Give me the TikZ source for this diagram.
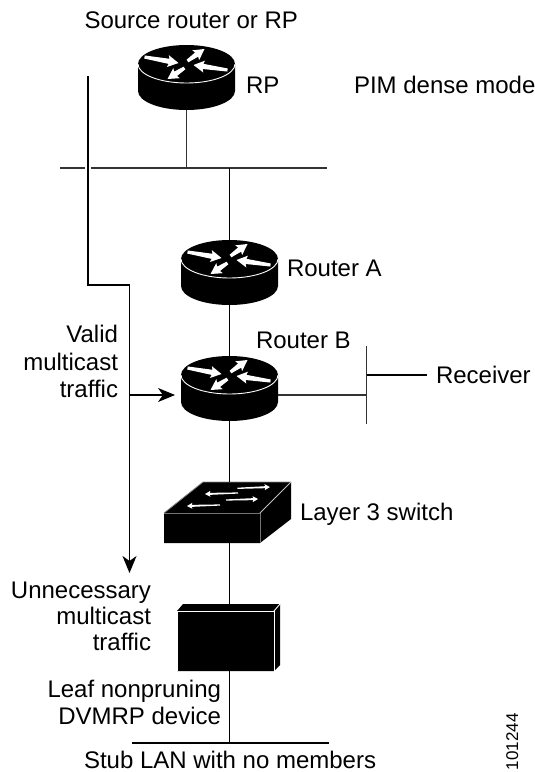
\documentclass[tikz,border=0pt]{standalone}
\usepackage{fontspec}
\setmainfont{Liberation Sans}
\usetikzlibrary{arrows.meta,calc}
\tikzset{
  x=1pt,y=1pt,
  wire/.style={line width=1.1pt,black},
  bar/.style={line width=1.2pt,black!80},
  flow/.style={wire,-{Stealth[length=17pt,width=14pt,inset=5pt]}},
  lbl/.style={inner sep=0pt,outer sep=0pt,font=\fontsize{24}{26.5}\selectfont},
  lblr/.style={lbl,align=right,anchor=base east},
  lbll/.style={lbl,anchor=base west},
  slot/.style={inner sep=0pt,outer sep=0pt,minimum width=#1},
}
% tapered white arrow: x1 y1 x2 y2 (y measured downward) neck head
\newcommand{\whitearrow}[6]{%
  \pgfmathsetmacro{\wang}{atan2(-((#4)-(#2)),(#3)-(#1))}%
  \pgfmathsetmacro{\wlen}{veclen((#3)-(#1),(#4)-(#2))}%
  \pgfmathsetmacro{\wx}{#1}%
  \pgfmathsetmacro{\wy}{-(#2)}%
  \fill[white,shift={(\wx,\wy)},rotate=\wang]
    (0,-#5*0.6) -- (\wlen-#6*0.8,-#5) -- (\wlen-#6*0.9,-#6*0.5) -- (\wlen,0)
    -- (\wlen-#6*0.9,#6*0.5) -- (\wlen-#6*0.8,#5) -- (0,#5*0.6) -- cycle;}
% router: name, centre of the top ellipse (x, y downward)
\newcommand{\routerat}[3]{%
  \node[slot=97pt,minimum height=65pt] (#1) at (#2,-#3-13.5) {};
  \fill[black] (#2-48.5,-#3) -- (#2-48.5,-#3-27) arc[start angle=180,end angle=360,x radius=48.5,y radius=19]
     -- (#2+48.5,-#3) arc[start angle=0,end angle=180,x radius=48.5,y radius=19] -- cycle;
  \draw[white,line width=0.9pt] (#2-48.5,-#3) arc[start angle=180,end angle=360,x radius=48.5,y radius=19];
  \whitearrow{#2-42}{#3-7}{#2-8}{#3-1}{2.6}{12}
  \whitearrow{#2+1}{#3-3}{#2+18}{#3-15}{2.6}{12}
  \whitearrow{#2+41}{#3+6}{#2+7}{#3+1}{2.6}{12}
  \whitearrow{#2-2}{#3+4}{#2-19}{#3+15}{2.6}{12}
}
\begin{document}
\begin{tikzpicture}
\useasboundingbox (0,-772) rectangle (535,0);
% devices
\routerat{rp}{186.5}{64}
\routerat{ra}{229.5}{259}
\routerat{rb}{229.5}{375}
% layer 3 switch
\node[slot=127pt,minimum height=61pt] (sw) at (227.5,-512.5) {};
\fill[black] (164,-513) -- (203,-482) -- (291,-482) -- (291,-519) -- (260,-543) -- (164,-543) -- cycle;
\draw[black!55,line width=0.9pt] (164,-513) -- (260,-513) -- (260,-543);
\draw[black!45,line width=0.8pt] (164,-513) -- (203,-482) -- (291,-482);
\draw[black!25,line width=0.9pt] (260,-513) -- (291,-482);
\whitearrow{237.3}{488.3}{270}{487}{1}{6}
\whitearrow{238}{493}{205}{494}{1}{6}
\whitearrow{226}{500}{258}{499}{1}{6}
\whitearrow{220}{505}{187}{506}{1}{6}
% leaf device
\node[slot=103pt,minimum height=67pt] (leaf) at (228.5,-637.5) {};
\fill[black] (177,-611) -- (183,-604) -- (280,-604) -- (280,-665) -- (274,-671) -- (177,-671) -- cycle;
\draw[white,line width=0.9pt] (177,-671) -- (177,-611) -- (274,-611) -- (274,-671);
\draw[white,line width=0.9pt] (274,-611) -- (280,-604);
% LAN bars
\coordinate (barL) at (60,-168);
\coordinate (barGapA) at (85,-168);
\coordinate (barGapB) at (90.5,-168);
\coordinate (barR) at (327,-168);
\draw[bar] (barL) -- (barGapA);
\draw[bar] (barGapB) -- (barR);
\coordinate (recvT) at (366.5,-346);
\coordinate (recvB) at (366.5,-424);
\draw[bar] (recvT) -- (recvB);
\coordinate (stubL) at (132,-743);
\coordinate (stubR) at (329,-743);
\draw[wire] (stubL) -- (stubR);
% connectors
\draw[bar] (rp.south) -- (rp.south |- barL);
\draw[wire] (ra.north) -- (ra.north |- barL);
\draw[wire] (ra.south) -- (rb.north);
\draw[wire] (rb.south) -- (sw.north -| rb.south) ;
\draw[wire] (sw.south -| rb.south) -- (leaf.north -| rb.south);
\draw[wire] (leaf.south -| rb.south) -- (rb.south |- stubL);
\coordinate (rbE) at (278,-395);
\draw[bar] (rbE) -- (rbE -| recvT);
\coordinate (recvEnd) at (427,-375);
\draw[wire] (recvEnd -| recvT) -- (recvEnd);
% traffic paths
\coordinate (tStart) at (88,-76);
\coordinate (tCorner) at (88,-285);
\coordinate (tDrop) at (129.5,-285);
\coordinate (tEnd) at (129.5,-573);
\draw[flow,line join=miter] (tStart) -- (tCorner) -- (tDrop) -- (tEnd);
\coordinate (vStart) at (129.5,-395);
\coordinate (vEnd) at (175,-395);
\draw[flow] (vStart) -- (vEnd);
% labels
\node[lbll] (t1) at (84.5,-28) {Source router or RP};
\node[lbll] (t2) at (246,-93) {RP};
\node[lbll] (t3) at (354,-93) {PIM dense mode};
\node[lbll] (t4) at (287,-276) {Router A};
\node[lbll] (t5) at (256,-348) {Router B};
\node[lbll] (t6) at (436,-383) {Receiver};
\node[lbll] (t7) at (300,-520) {Layer 3 switch};
\node[lblr] (t8a) at (118,-342) {Valid};
\node[lblr] (t8b) at (118,-370) {multicast};
\node[lblr] (t8c) at (118,-397) {traffic};
\node[lblr] (t9a) at (151,-598) {Unnecessary};
\node[lblr] (t9b) at (151,-624) {multicast};
\node[lblr] (t9c) at (151,-650) {traffic};
\node[lblr] (t10a) at (221,-697.5) {Leaf nonpruning};
\node[lblr] (t10b) at (221,-724) {DVMRP device};
\node[lbll] (t11) at (84,-768) {Stub LAN with no members};
\node[inner sep=0pt,outer sep=0pt,rotate=90,anchor=base west,font=\fontsize{17}{18}\selectfont] (t12) at (518,-770) {101244};
\end{tikzpicture}
\end{document}
